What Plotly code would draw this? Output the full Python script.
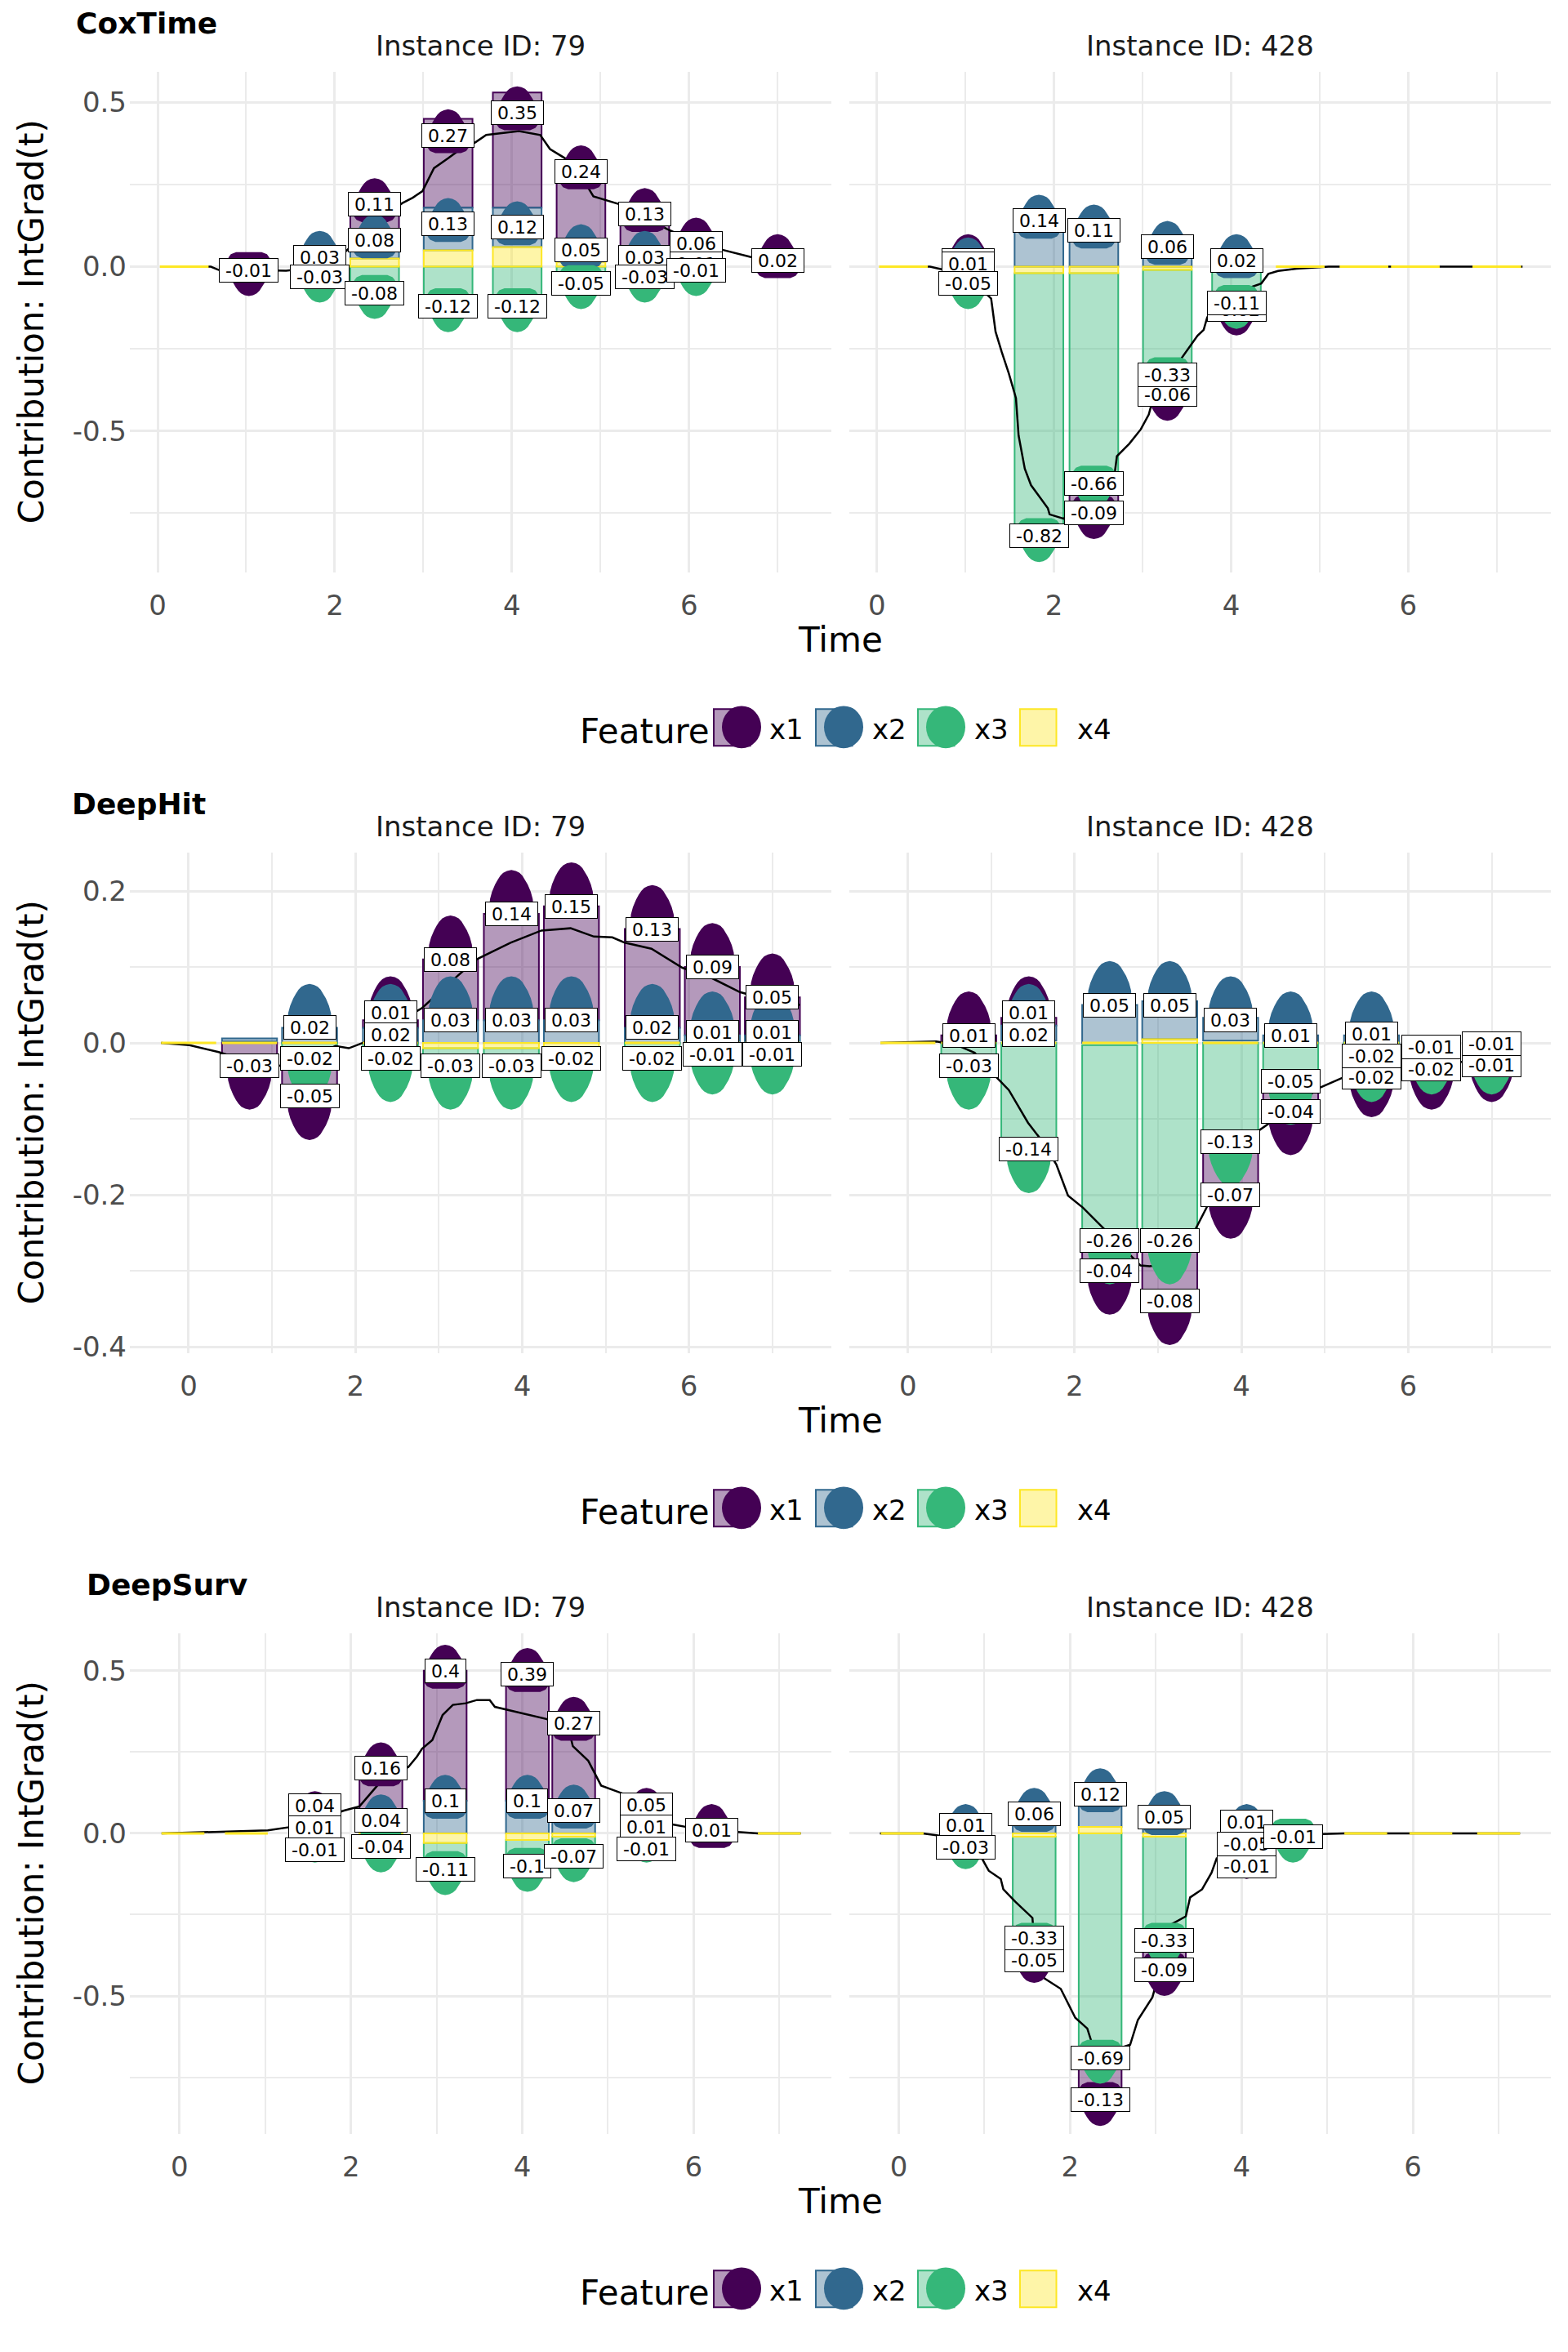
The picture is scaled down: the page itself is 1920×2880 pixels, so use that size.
import plotly.graph_objects as go
import numpy as np

# ---------------- data ----------------
FEATURES = ["x1", "x2", "x3", "x4"]
MODELS = ["CoxTime", "DeepHit", "DeepSurv"]
INSTANCES = ["79", "428"]

coxtime_time = [0.3, 1.03, 1.83, 2.45, 3.28, 4.06, 4.78, 5.5, 6.08, 7.0]
coxtime_79_x1 = [0, -0.01, 0, 0.11, 0.27, 0.35, 0.24, 0.13, 0.06, 0.02]
coxtime_79_x2 = [0, 0, 0.03, 0.08, 0.13, 0.12, 0.05, 0.03, 0.01, 0]
coxtime_79_x3 = [0, 0, -0.03, -0.08, -0.12, -0.12, -0.05, -0.03, -0.01, 0]
coxtime_79_x4 = [0, 0, 0, 0.025, 0.05, 0.06, 0.015, 0, 0, 0]
coxtime_428_x1 = [0, 0.01, 0, -0.09, -0.06, -0.02, 0, 0, 0, 0]
coxtime_428_x2 = [0, 0.01, 0.14, 0.11, 0.06, 0.02, 0, 0, 0, 0]
coxtime_428_x3 = [0, -0.05, -0.82, -0.66, -0.33, -0.11, 0, 0, 0, 0]
coxtime_428_x4 = [0, 0, -0.02, -0.02, -0.01, 0, 0, 0, 0, 0]

deephit_time = [0.0, 0.73, 1.45, 2.42, 3.14, 3.87, 4.59, 5.56, 6.28, 7.0]
deephit_79_x1 = [0, -0.03, -0.05, 0.01, 0.08, 0.14, 0.15, 0.13, 0.09, 0.05]
deephit_79_x2 = [0, 0.004, 0.02, 0.02, 0.03, 0.03, 0.03, 0.02, 0.01, 0.01]
deephit_79_x3 = [0, 0, -0.02, -0.02, -0.03, -0.03, -0.02, -0.02, -0.01, -0.01]
deephit_79_x4 = [0, 0.002, 0, 0, -0.007, -0.007, -0.007, 0, 0, 0]
deephit_428_x1 = [0, 0.01, 0.01, -0.04, -0.08, -0.07, -0.04, -0.02, -0.02, -0.01]
deephit_428_x2 = [0, 0, 0.02, 0.05, 0.05, 0.03, 0.01, 0.01, 0, 0]
deephit_428_x3 = [0, -0.03, -0.14, -0.26, -0.26, -0.13, -0.05, -0.02, -0.01, -0.01]
deephit_428_x4 = [0, 0, 0.003, -0.003, 0.005, 0.003, 0, 0, 0, 0]

deepsurv_time = [0.04, 0.78, 1.58, 2.35, 3.10, 4.06, 4.60, 5.45, 6.21, 7.0]
deepsurv_79_x1 = [0, 0, 0.04, 0.16, 0.4, 0.39, 0.27, 0.05, 0.01, 0]
deepsurv_79_x2 = [0, 0, 0.01, 0.04, 0.1, 0.1, 0.07, 0.01, 0, 0]
deepsurv_79_x3 = [0, 0, -0.01, -0.04, -0.11, -0.1, -0.07, -0.01, 0, 0]
deepsurv_79_x4 = [0, 0, 0, -0.005, -0.03, -0.02, -0.01, 0, 0, 0]
deepsurv_428_x1 = [0, 0, -0.05, -0.13, -0.09, -0.01, 0, 0, 0, 0]
deepsurv_428_x2 = [0, 0.01, 0.06, 0.12, 0.05, 0.01, 0, 0, 0, 0]
deepsurv_428_x3 = [0, -0.03, -0.33, -0.69, -0.33, -0.05, -0.01, 0, 0, 0]
deepsurv_428_x4 = [0, 0, -0.01, 0.02, -0.01, 0, 0, 0, 0, 0]

# total contribution curve (black line)
coxtime_79_line_t = [0.03, 0.6, 0.69, 1.03, 1.45, 1.83, 2.13, 2.45, 2.76, 2.88, 2.99, 3.12, 3.28, 3.40, 3.59, 3.71,
                     4.08, 4.32, 4.43, 4.60, 4.84, 4.92, 5.23, 5.50, 5.75, 6.08, 6.34, 6.69, 7.0, 7.28]
coxtime_79_line_v = [0.0, 0.0, -0.01, -0.01, -0.012, 0.0, 0.048, 0.13, 0.193, 0.21, 0.23, 0.30, 0.33, 0.354, 0.379,
                     0.401, 0.413, 0.401, 0.358, 0.33, 0.25, 0.214, 0.189, 0.15, 0.115, 0.075, 0.054, 0.03, 0.02, 0.02]
coxtime_428_line_t = [0.04, 0.6, 0.75, 1.03, 1.29, 1.34, 1.41, 1.49, 1.57, 1.60, 1.67, 1.74, 1.93, 1.95, 2.11, 2.45,
                      2.68, 2.71, 2.85, 2.98, 3.07, 3.12, 3.62, 3.69, 3.73, 4.12, 4.34, 4.42, 4.53, 4.74, 5.1, 7.29]
coxtime_428_line_v = [0.0, 0.0, -0.009, -0.03, -0.097, -0.198, -0.26, -0.325, -0.40, -0.514, -0.615, -0.665, -0.735,
                      -0.754, -0.767, -0.70, -0.64, -0.577, -0.539, -0.495, -0.45, -0.40, -0.21, -0.192, -0.154,
                      -0.072, -0.051, -0.022, -0.013, -0.006, 0.0, 0.0]
deephit_79_line_t = [-0.33, 0.01, 0.36, 0.73, 1.1, 1.45, 1.76, 1.92, 2.11, 2.80, 3.17, 3.45, 3.86, 4.23, 4.58, 4.86,
                     5.08, 5.23, 5.55, 5.92, 6.28, 6.61, 7.0, 7.33]
deephit_79_line_v = [0.0, -0.003, -0.012, -0.025, -0.03, -0.02, -0.004, -0.007, 0.001, 0.046, 0.083, 0.11, 0.132,
                     0.148, 0.151, 0.14, 0.139, 0.132, 0.124, 0.099, 0.085, 0.067, 0.055, 0.05]
deephit_428_line_t = [-0.33, 0.34, 0.57, 0.80, 1.06, 1.21, 1.44, 1.58, 1.78, 1.92, 2.10, 2.33, 2.79, 2.90, 3.14, 3.45,
                      3.59, 4.20, 4.94, 5.23, 5.56, 6.28, 7.0, 7.33]
deephit_428_line_v = [0.0, 0.002, -0.002, -0.013, -0.045, -0.062, -0.105, -0.125, -0.16, -0.201, -0.217, -0.242,
                      -0.293, -0.294, -0.29, -0.245, -0.215, -0.116, -0.059, -0.045, -0.035, -0.03, -0.02, -0.02]
deepsurv_79_line_t = [-0.21, 1.03, 1.28, 1.58, 1.92, 2.10, 2.37, 2.67, 2.77, 2.83, 2.95, 3.07, 3.19, 3.34, 3.47, 3.62,
                      3.68, 3.83, 4.29, 4.56, 4.59, 4.77, 4.92, 5.32, 5.74, 5.93, 6.21, 6.75, 7.25]
deepsurv_79_line_v = [0.0, 0.009, 0.019, 0.04, 0.07, 0.083, 0.166, 0.204, 0.236, 0.26, 0.287, 0.364, 0.395, 0.40, 0.41,
                      0.41, 0.389, 0.38, 0.351, 0.30, 0.268, 0.223, 0.147, 0.108, 0.028, 0.019, 0.01, 0.0, 0.0]
deepsurv_428_line_t = [-0.22, 0.28, 0.44, 0.78, 0.97, 1.05, 1.19, 1.22, 1.36, 1.56, 1.57, 1.70, 1.89, 2.06, 2.20, 2.26,
                       2.35, 2.70, 2.79, 2.96, 3.09, 3.18, 3.35, 3.40, 3.54, 3.65, 3.71, 4.06, 4.60, 4.94, 5.2, 7.25]
deepsurv_428_line_v = [0.0, 0.0, -0.006, -0.02, -0.077, -0.115, -0.14, -0.172, -0.21, -0.26, -0.297, -0.446, -0.478,
                       -0.567, -0.60, -0.65, -0.68, -0.65, -0.574, -0.504, -0.38, -0.28, -0.255, -0.197, -0.172,
                       -0.121, -0.077, -0.05, -0.01, -0.002, 0.0, 0.0]

TIMES = {"CoxTime": coxtime_time, "DeepHit": deephit_time, "DeepSurv": deepsurv_time}
VALUES = {
    ("CoxTime", "79"): [coxtime_79_x1, coxtime_79_x2, coxtime_79_x3, coxtime_79_x4],
    ("CoxTime", "428"): [coxtime_428_x1, coxtime_428_x2, coxtime_428_x3, coxtime_428_x4],
    ("DeepHit", "79"): [deephit_79_x1, deephit_79_x2, deephit_79_x3, deephit_79_x4],
    ("DeepHit", "428"): [deephit_428_x1, deephit_428_x2, deephit_428_x3, deephit_428_x4],
    ("DeepSurv", "79"): [deepsurv_79_x1, deepsurv_79_x2, deepsurv_79_x3, deepsurv_79_x4],
    ("DeepSurv", "428"): [deepsurv_428_x1, deepsurv_428_x2, deepsurv_428_x3, deepsurv_428_x4],
}
LINES = {
    ("CoxTime", "79"): (coxtime_79_line_t, coxtime_79_line_v),
    ("CoxTime", "428"): (coxtime_428_line_t, coxtime_428_line_v),
    ("DeepHit", "79"): (deephit_79_line_t, deephit_79_line_v),
    ("DeepHit", "428"): (deephit_428_line_t, deephit_428_line_v),
    ("DeepSurv", "79"): (deepsurv_79_line_t, deepsurv_79_line_v),
    ("DeepSurv", "428"): (deepsurv_428_line_t, deepsurv_428_line_v),
}

# ---------------- style ----------------
COLORS = {"x1": "#440154", "x2": "#31688E", "x3": "#35B779", "x4": "#FDE725"}
FILLS = {"x1": "rgba(68,1,84,0.4)", "x2": "rgba(49,104,142,0.4)",
         "x3": "rgba(53,183,121,0.4)", "x4": "rgba(253,231,37,0.4)"}
FONT = "DejaVu Sans"
GRID = "#EBEBEB"
WIDTH, HEIGHT, ROWH = 1920, 2880, 960
PX = [(159.0, 1018.3), (1039.7, 1899.0)]
PY = (88.0, 704.0)

ROW_STYLE = [
    dict(xr=(-0.314, 7.61), yr=(-0.931, 0.594), yt=[-0.5, 0.0, 0.5], ym=0.25, bw=0.55,
         bW=52, bH=54, nud=5, repel=False, title_x=91),
    dict(xr=(-0.705, 7.71), yr=(-0.4086, 0.251), yt=[-0.4, -0.2, 0.0, 0.2], ym=0.1, bw=0.66,
         bW=54, bH=60, nud=24, repel=True, title_x=86),
    dict(xr=(-0.58, 7.61), yr=(-0.9245, 0.616), yt=[-0.5, 0.0, 0.5], ym=0.25, bw=0.5,
         bW=52, bH=54, nud=5, repel=True, title_x=104),
]
# bell-shaped bump outline: (fraction of height from inner end, fraction of half width)
BUMP_A = [0.0, 0.05, 0.12, 0.22, 0.4, 0.55, 0.7, 0.8, 0.88, 0.94, 0.98, 1.0]
BUMP_F = [0.6, 0.85, 0.96, 1.0, 0.97, 0.88, 0.74, 0.62, 0.5, 0.37, 0.2, 0.0]
CHARW = {"-": 0.361, ".": 0.318}
LABEL_SIZE = 22


def px_x(px):
    return px / WIDTH


def px_y(row, py):
    return 1 - (row * ROWH + py) / HEIGHT


def fmt(v):
    return f"{round(v, 2):g}"


def text_w(s):
    return sum(CHARW.get(ch, 0.636) for ch in s) * LABEL_SIZE


def repel(targets, h, iters=400):
    y = list(targets)
    n = len(y)
    for _ in range(iters):
        order = sorted(range(n), key=lambda i: y[i])
        moved = False
        for a, b in zip(order[:-1], order[1:]):
            d = y[b] - y[a]
            if d < h - 1e-6:
                s = (h - d) / 2
                y[a] -= s
                y[b] += s
                moved = True
        if not moved:
            break
    return y


fig = go.Figure()
annotations = []
shapes = []
layout_axes = {}

ba = np.array(BUMP_A)
bf = np.array(BUMP_F)

for r, model in enumerate(MODELS):
    st = ROW_STYLE[r]
    times = TIMES[model]
    ppu_x = (PX[0][1] - PX[0][0]) / (st["xr"][1] - st["xr"][0])
    ppu_y = (PY[1] - PY[0]) / (st["yr"][1] - st["yr"][0])
    bw = st["bw"]
    for c, inst in enumerate(INSTANCES):
        k = 2 * r + c + 1
        xa = "x" if k == 1 else f"x{k}"
        ya = "y" if k == 1 else f"y{k}"
        vals = dict(zip(FEATURES, VALUES[(model, inst)]))

        # black total line (drawn under the translucent bars)
        lt, lv = LINES[(model, inst)]
        fig.add_trace(go.Scatter(x=lt, y=lv, mode="lines", line=dict(color="black", width=2.5),
                                 xaxis=xa, yaxis=ya, showlegend=False, hoverinfo="skip"))

        # stacked bars: x4 nearest zero, then x3, x2, x1 outward
        bases = {f: [0.0] * len(times) for f in FEATURES}
        lab_pos = {f: [0.0] * len(times) for f in FEATURES}
        for i in range(len(times)):
            pos, neg = 0.0, 0.0
            for f in ["x4", "x3", "x2", "x1"]:
                v = vals[f][i]
                if v >= 0:
                    bases[f][i] = pos
                    pos += v
                else:
                    bases[f][i] = neg
                    neg += v
            lp, ln = 0.0, 0.0
            for f in ["x3", "x2", "x1"]:
                v = vals[f][i]
                if v >= 0:
                    lp += v
                    lab_pos[f][i] = lp
                else:
                    ln += v
                    lab_pos[f][i] = ln

        for f in FEATURES:
            idx = [i for i in range(len(times)) if abs(vals[f][i]) >= 0.004]
            if not idx:
                continue
            fig.add_trace(go.Bar(
                x=[times[i] for i in idx], y=[vals[f][i] for i in idx], base=[bases[f][i] for i in idx],
                width=bw, marker=dict(color=FILLS[f], line=dict(color=COLORS[f], width=2)),
                xaxis=xa, yaxis=ya, showlegend=False, hoverinfo="skip"))

        # zero-height x4 bars appear as a yellow line
        zx, zy = [], []
        for i, t in enumerate(times):
            if abs(vals["x4"][i]) < 0.004:
                zx += [t - bw / 2, t + bw / 2, None]
                zy += [0, 0, None]
        fig.add_trace(go.Scatter(x=zx, y=zy, mode="lines", line=dict(color=COLORS["x4"], width=3),
                                 xaxis=xa, yaxis=ya, showlegend=False, hoverinfo="skip"))

        # bumps at the end of each labelled segment
        for f in ["x1", "x2", "x3"]:
            bx, by = [], []
            for i, t in enumerate(times):
                v = vals[f][i]
                if abs(round(v, 2)) < 0.01:
                    continue
                s = 1 if v > 0 else -1
                cy = lab_pos[f][i] + s * st["nud"] / ppu_y
                base_y = cy - s * st["bH"] / 2 / ppu_y
                ys = base_y + s * ba * st["bH"] / ppu_y
                hw = bf * st["bW"] / 2 / ppu_x
                px_ = list(t + hw) + list((t - hw)[::-1])
                py_ = list(ys) + list(ys[::-1])
                bx += px_ + [px_[0], None]
                by += py_ + [py_[0], None]
            if bx:
                fig.add_trace(go.Scatter(x=bx, y=by, mode="lines", fill="toself", fillcolor=COLORS[f],
                                         line=dict(width=0, color=COLORS[f]), xaxis=xa, yaxis=ya,
                                         showlegend=False, hoverinfo="skip"))

        # value labels
        for i, t in enumerate(times):
            items = [(f, vals[f][i]) for f in ["x1", "x2", "x3"] if abs(round(vals[f][i], 2)) >= 0.01]
            if not items:
                continue
            targets = [-lab_pos[f][i] * ppu_y for f, _ in items]
            ys = repel(targets, 27.0) if st["repel"] else targets
            for (f, v), yp in zip(items, ys):
                txt = fmt(v)
                annotations.append(dict(
                    x=t, y=-yp / ppu_y, xref=xa, yref=ya, text=txt, showarrow=False,
                    font=dict(family=FONT, size=LABEL_SIZE, color="black"),
                    bgcolor="white", bordercolor="black", borderwidth=1, borderpad=1,
                    width=text_w(txt) + 12, height=26, xanchor="center", yanchor="middle"))

        # axes
        xdom = [px_x(PX[c][0]), px_x(PX[c][1])]
        ydom = [px_y(r, PY[1]), px_y(r, PY[0])]
        layout_axes["xaxis" if k == 1 else f"xaxis{k}"] = dict(
            domain=xdom, range=list(st["xr"]), anchor=ya, tickmode="array",
            tickvals=[0, 2, 4, 6], ticktext=["0", "2", "4", "6"], showgrid=True, gridcolor=GRID,
            gridwidth=3.2, zeroline=False, showline=False, ticks="",
            tickfont=dict(family=FONT, size=34, color="#4D4D4D"), ticklabelstandoff=17,
            minor=dict(tickmode="linear", tick0=0, dtick=1, showgrid=True, gridcolor=GRID, gridwidth=1.6))
        layout_axes["yaxis" if k == 1 else f"yaxis{k}"] = dict(
            domain=ydom, range=list(st["yr"]), anchor=xa, tickmode="array", tickvals=st["yt"],
            ticktext=[f"{v:.1f}" for v in st["yt"]], showticklabels=(c == 0), showgrid=True,
            gridcolor=GRID, gridwidth=3.2, zeroline=False, showline=False, ticks="",
            tickfont=dict(family=FONT, size=34, color="#4D4D4D"), ticklabelstandoff=3,
            minor=dict(tickmode="linear", tick0=0, dtick=st["ym"], showgrid=True, gridcolor=GRID,
                       gridwidth=1.6))

        # strip title
        annotations.append(dict(x=px_x((PX[c][0] + PX[c][1]) / 2), y=px_y(r, 56), xref="paper", yref="paper",
                                text=f"Instance ID: {inst}", showarrow=False, xanchor="center",
                                yanchor="middle", font=dict(family=FONT, size=34, color="#1A1A1A")))

    # row title, axis titles
    annotations.append(dict(x=px_x(st["title_x"]), y=px_y(r, 29), xref="paper", yref="paper",
                            text=f"<b>{model}</b>", showarrow=False, xanchor="left", yanchor="middle",
                            font=dict(family=FONT, size=36, color="black")))
    annotations.append(dict(x=px_x(38), y=px_y(r, 396), xref="paper", yref="paper",
                            text="Contribution: IntGrad(t)", textangle=-90, showarrow=False,
                            xanchor="center", yanchor="middle", font=dict(family=FONT, size=42, color="black")))
    annotations.append(dict(x=px_x((PX[0][0] + PX[1][1]) / 2), y=px_y(r, 787), xref="paper", yref="paper",
                            text="Time", showarrow=False, xanchor="center", yanchor="middle",
                            font=dict(family=FONT, size=42, color="black")))

    # legend
    annotations.append(dict(x=px_x(708), y=px_y(r, 899), xref="paper", yref="paper", text="Feature",
                            showarrow=False, xanchor="left", yanchor="middle",
                            font=dict(family=FONT, size=42, color="black")))
    for j, f in enumerate(FEATURES):
        bx0 = 874 + 125 * j
        shapes.append(dict(type="rect", xref="paper", yref="paper", x0=px_x(bx0), x1=px_x(bx0 + 44.5),
                           y0=px_y(r, 917), y1=px_y(r, 872), fillcolor=FILLS[f],
                           line=dict(color=COLORS[f], width=2)))
        if f != "x4":
            cx = bx0 + 34
            shapes.append(dict(type="circle", xref="paper", yref="paper", x0=px_x(cx - 24), x1=px_x(cx + 24),
                               y0=px_y(r, 920), y1=px_y(r, 868), fillcolor=COLORS[f],
                               line=dict(width=0, color=COLORS[f])))
        annotations.append(dict(x=px_x(940 + 125.6 * j), y=px_y(r, 897), xref="paper", yref="paper", text=f,
                                showarrow=False, xanchor="left", yanchor="middle",
                                font=dict(family=FONT, size=34, color="black")))

fig.update_layout(
    width=WIDTH, height=HEIGHT, margin=dict(l=0, r=0, t=0, b=0),
    paper_bgcolor="white", plot_bgcolor="white", barmode="overlay", showlegend=False,
    font=dict(family=FONT), annotations=annotations, shapes=shapes, **layout_axes)

fig.write_html("out.html")
